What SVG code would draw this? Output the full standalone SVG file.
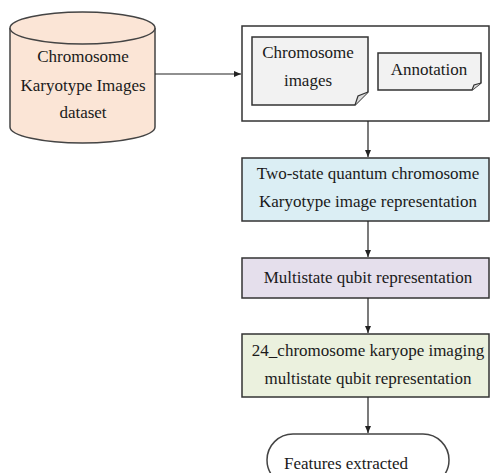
<svg xmlns="http://www.w3.org/2000/svg" width="491" height="473" viewBox="0 0 491 473">
<defs>
<marker id="ah" markerWidth="8" markerHeight="8" refX="7" refY="4" orient="auto" markerUnits="userSpaceOnUse">
<path d="M0,1 L7,4 L0,7 Z" fill="#222"/>
</marker>
</defs>
<style>
text{font-family:'Liberation Serif','Times New Roman',serif;font-size:17px;fill:#1a1a1a;text-anchor:middle}
.box{stroke:#333;stroke-width:1.5}
.doc{fill:#f2f2f2;stroke:#333;stroke-width:1.5}
.conn{stroke:#222;stroke-width:1.2;fill:none}
</style>
<rect width="491" height="473" fill="#fff"/>
<g font-family="Liberation Serif, serif">
<g id="dataset">
<path d="M10,28 V127 A72.5,16 0 0 0 155,127 V28" fill="#fbe5d6" stroke="#444" stroke-width="1.5"/>
<ellipse cx="82.5" cy="28" rx="72.5" ry="16" fill="#fbe5d6" stroke="#444" stroke-width="1.5"/>
<text x="83" y="62">Chromosome</text>
<text x="83" y="91">Karyotype Images</text>
<text x="83" y="118">dataset</text>
</g>
<g id="input">
<rect x="242" y="26" width="247" height="95" fill="#fff" class="box"/>
<g id="chromimages">
<path d="M252,37 H368 V92 L355,105 H252 Z" class="doc"/>
<path d="M355,105 L358,96 L368,92" fill="#ddd" stroke="#333" stroke-width="1.2"/>
<text x="308" y="58">Chromosome</text>
<text x="308" y="86">images</text>
</g>
<g id="annotation">
<path d="M378,53 H481 V83 L472,90 H378 Z" class="doc"/>
<path d="M472,90 L474,85 L481,83" fill="#ddd" stroke="#333" stroke-width="1.2"/>
<text x="429" y="75">Annotation</text>
</g>
</g>
<g id="twostate">
<rect x="242" y="158" width="247" height="63" fill="#dbeef4" class="box"/>
<text x="368" y="179">Two-state quantum chromosome</text>
<text x="368" y="207">Karyotype image representation</text>
</g>
<g id="multistate">
<rect x="242" y="258" width="247" height="40" fill="#e5dfec" class="box"/>
<text x="368" y="283">Multistate qubit representation</text>
</g>
<g id="karyo24">
<rect x="242" y="334" width="247" height="63" fill="#ebf1de" class="box"/>
<text x="368" y="356">24_chromosome karyope imaging</text>
<text x="368" y="384">multistate qubit representation</text>
</g>
<g id="features">
<rect x="267" y="434" width="182" height="52" rx="26" fill="#fff" stroke="#444" stroke-width="1.5"/>
<text x="346" y="469">Features extracted</text>
</g>
</g>
<g id="connectors">
<line x1="155" y1="74" x2="241" y2="74" class="conn" marker-end="url(#ah)"/>
<line x1="368" y1="121" x2="368" y2="157" class="conn" marker-end="url(#ah)"/>
<line x1="368" y1="221" x2="368" y2="257" class="conn" marker-end="url(#ah)"/>
<line x1="368" y1="298" x2="368" y2="333" class="conn" marker-end="url(#ah)"/>
<line x1="368" y1="397" x2="368" y2="433" class="conn" marker-end="url(#ah)"/>
</g>
</svg>
